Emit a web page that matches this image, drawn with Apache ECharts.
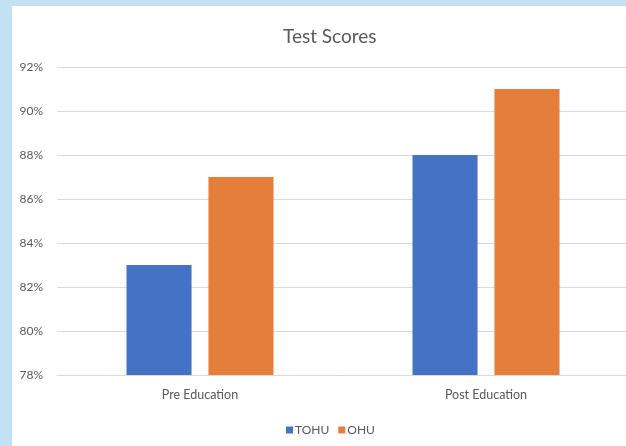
<!DOCTYPE html>
<html>
<head>
<meta charset="utf-8">
<script src="https://cdn.jsdelivr.net/npm/echarts@6/dist/echarts.min.js"></script>
<style>
  html, body { margin: 0; padding: 0; }
  #main { width: 626px; height: 446px; }
</style>
</head>
<body>
<div id="main"></div>
<script>
// data (percent)
const categories = ['Pre Education', 'Post Education'];
const seriesNames = ['TOHU', 'OHU'];
const tohu = [83, 88];
const ohu = [87, 91];
const yMin = 78, yMax = 92, yStep = 2;

const chart = echarts.init(document.getElementById('main'));
const font = 'Lato, "Open Sans", sans-serif';

chart.setOption({
  backgroundColor: '#c2e2f3',
  animation: false,
  graphic: [{
    type: 'rect',
    z: -10,
    shape: { x: 12, y: 6, width: 620, height: 450 },
    style: { fill: '#ffffff' }
  }],
  title: {
    text: 'Test Scores',
    left: 278,
    top: 22,
    textStyle: { fontFamily: font, fontSize: 19, fontWeight: 'normal', color: '#595959' }
  },
  legend: {
    data: seriesNames,
    left: 281,
    top: 419,
    icon: 'rect',
    itemWidth: 7,
    itemHeight: 7,
    itemGap: 9,
    textStyle: { fontFamily: font, fontSize: 12, color: '#595959', padding: [0, 0, 0, -3] }
  },
  grid: {
    left: 57,
    top: 67,
    width: 572,
    height: 308,
    containLabel: false,
    outerBoundsMode: 'none'
  },
  xAxis: {
    type: 'category',
    data: categories,
    axisLine: { lineStyle: { color: '#d9d9d9' } },
    axisTick: { show: false },
    axisLabel: { fontFamily: font, fontSize: 12.5, color: '#595959', margin: 13 }
  },
  yAxis: {
    type: 'value',
    min: yMin,
    max: yMax,
    interval: yStep,
    axisLine: { show: false },
    axisTick: { show: false },
    axisLabel: { fontFamily: font, fontSize: 12, color: '#595959', margin: 14, formatter: '{value}%' },
    splitLine: { lineStyle: { color: '#d9d9d9', width: 1 } }
  },
  series: [
    {
      name: seriesNames[0],
      type: 'bar',
      data: tohu,
      barGap: '26%',
      barCategoryGap: '48.6%',
      itemStyle: { color: '#4472c4' }
    },
    {
      name: seriesNames[1],
      type: 'bar',
      data: ohu,
      itemStyle: { color: '#e67e3b' }
    }
  ]
});
</script>
</body>
</html>
